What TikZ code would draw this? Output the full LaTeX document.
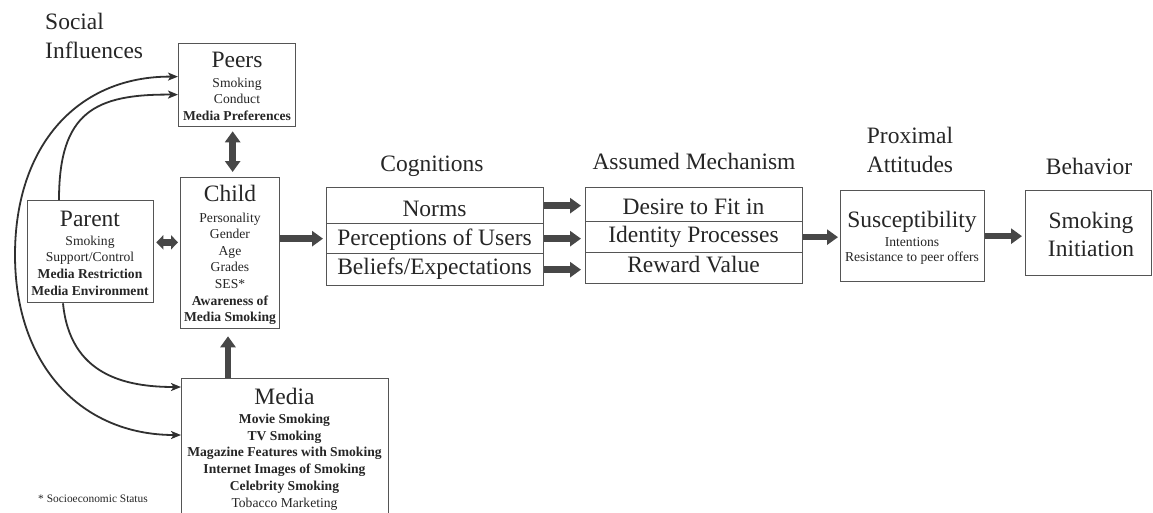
\documentclass[tikz,border=0pt]{standalone}
\usepackage{fontspec}
\setmainfont{Liberation Serif}
\usetikzlibrary{arrows.meta,calc}
\definecolor{txt}{HTML}{262626}
\definecolor{boxc}{HTML}{555555}
\definecolor{arrowc}{HTML}{474747}
\definecolor{arcc}{HTML}{303030}
\begin{document}
\begin{tikzpicture}[x=1pt,y=-1pt,
  bx/.style={draw=boxc,line width=1.3pt,inner sep=0pt,anchor=north west,rectangle},
  tl/.style={anchor=base,inner sep=0pt,text=txt},
  big/.style={tl,font=\fontsize{23.5}{28}\selectfont},
  sm/.style={tl,font=\fontsize{13.6}{16}\selectfont},
  smb/.style={tl,font=\fontsize{13.6}{16}\selectfont\bfseries},
  fat/.style={draw=arrowc,line width=6.5pt,-{Triangle[length=11pt,width=15pt]}},
  fatd/.style={draw=arrowc,line width=6.5pt,{Triangle[length=11pt,width=15pt]}-{Triangle[length=11pt,width=15pt]}},
  fatds/.style={draw=arrowc,line width=6.5pt,{Triangle[length=7pt,width=14pt]}-{Triangle[length=7pt,width=14pt]}},
  sarc/.style={draw=arcc,line width=1.8pt},
  arctip/.style={-{Stealth[length=10pt,width=8pt,inset=2.5pt]}}
]
\path[use as bounding box] (0,0) rectangle (1153,512);
\fill[white] (0,0) rectangle (1153,512);
\clip (0,0) rectangle (1153,512);

% boxes
\node[bx,minimum width=117pt,minimum height=83pt] (peers) at (178,43) {};
\node[bx,minimum width=99pt,minimum height=151pt] (child) at (180,177) {};
\node[bx,minimum width=126pt,minimum height=102pt] (parent) at (27,200) {};
\node[bx,minimum width=207pt,minimum height=152pt] (media) at (181,378) {};
\node[bx,minimum width=217pt,minimum height=36pt] (cog1) at (326,187) {};
\node[bx,minimum width=217pt,minimum height=30pt] (cog2) at (326,223) {};
\node[bx,minimum width=217pt,minimum height=32pt] (cog3) at (326,253) {};
\node[bx,minimum width=217pt,minimum height=34pt] (mech1) at (585,187) {};
\node[bx,minimum width=217pt,minimum height=31pt] (mech2) at (585,221) {};
\node[bx,minimum width=217pt,minimum height=31pt] (mech3) at (585,252) {};
\node[bx,minimum width=144pt,minimum height=91pt] (prox) at (840,190) {};
\node[bx,minimum width=126pt,minimum height=85pt] (behav) at (1025,190) {};

% headings
\node[big,anchor=base west] (hSocial) at (45,29.5) {Social};
\node[big,anchor=base west] (hInfl) at (45,58) {Influences};
\node[big] (hCog) at (432,171.7) {Cognitions};
\node[big] (hMech) at (694,169.3) {Assumed Mechanism};
\node[big] (hProx1) at (910,143.3) {Proximal};
\node[big] (hProx2) at (910,172.7) {Attitudes};
\node[big] (hBeh) at (1089,174) {Behavior};

% peers text
\node[big] (tPeers) at (237,67) {Peers};
\node[sm] (tPeers1) at (237,87) {Smoking};
\node[sm] (tPeers2) at (237,103.5) {Conduct};
\node[smb] (tPeers3) at (237,120.5) {Media Preferences};

% child text
\node[big] (tChild) at (230,201.5) {Child};
\node[sm] (tChild1) at (230,222) {Personality};
\node[sm] (tChild2) at (230,238.6) {Gender};
\node[sm] (tChild3) at (230,255.2) {Age};
\node[sm] (tChild4) at (230,271.8) {Grades};
\node[sm] (tChild5) at (230,288.4) {SES*};
\node[smb] (tChild6) at (230,305) {Awareness of};
\node[smb] (tChild7) at (230,321.6) {Media Smoking};

% parent text
\node[big] (tParent) at (90,226.7) {Parent};
\node[sm] (tParent1) at (90,245) {Smoking};
\node[sm] (tParent2) at (90,261.7) {Support/Control};
\node[smb] (tParent3) at (90,278.3) {Media Restriction};
\node[smb] (tParent4) at (90,295) {Media Environment};

% media text
\node[big] (tMedia) at (284.5,404) {Media};
\node[smb] (tMedia1) at (284.5,423.3) {Movie Smoking};
\node[smb] (tMedia2) at (284.5,440) {TV Smoking};
\node[smb] (tMedia3) at (284.5,456.8) {Magazine Features with Smoking};
\node[smb] (tMedia4) at (284.5,473.6) {Internet Images of Smoking};
\node[smb] (tMedia5) at (284.5,490.4) {Celebrity Smoking};
\node[sm] (tMedia6) at (284.5,507.2) {Tobacco Marketing};

\node[tl,font=\fontsize{11.4}{13}\selectfont] (tFoot) at (93,502) {* Socioeconomic Status};

% cognitions / mechanism text
\node[big] (tCog1) at (434.5,216.7) {Norms};
\node[big] (tCog2) at (434.5,245) {Perceptions of Users};
\node[big] (tCog3) at (434.5,274) {Beliefs/Expectations};
\node[big] (tMech1) at (693.5,214) {Desire to Fit in};
\node[big] (tMech2) at (693.5,242.5) {Identity Processes};
\node[big] (tMech3) at (693.5,272) {Reward Value};

% proximal / behavior text
\node[big] (tProx) at (912,227.3) {Susceptibility};
\node[sm] (tProx1) at (912,246.7) {Intentions};
\node[sm] (tProx2) at (912,261.7) {Resistance to peer offers};
\node[big] (tBeh1) at (1091,228.3) {Smoking};
\node[big] (tBeh2) at (1091,256.7) {Initiation};

% curved social-influence arrows
\coordinate (outerleft) at (15,255);
\draw[sarc,{Stealth[length=10pt,width=8pt,inset=2.5pt]}-] ($(peers.west)+(0,-8.5)$) .. controls (78,76) and (15,145) .. (outerleft);
\draw[sarc,arctip] (outerleft) .. controls (15,365) and (81,435) .. ($(media.north west)+(0,57)$);
\draw[sarc,arctip] ($(parent.north west)+(32,0)$) .. controls (59,112) and (95,94) .. ($(peers.west)+(0,9.5)$);
\draw[sarc,arctip] ($(parent.south west)+(36,0)$) .. controls (70,375) and (125,387) .. ($(media.north west)+(0,9)$);

% thick arrows
\draw[fatd] ($(child.north)+(2.5,-5)$) -- ($(child.north |- peers.south)+(2.5,4)$);
\draw[fatds] ($(parent.east)+(2,-9.3)$) -- ($(child.west |- parent.east)+(-2,-9.3)$);
\draw[fat] ($(media.north west)+(47,0)$) -- ($(child.south west)+(48,7)$);
\draw[fat,shorten >=3pt] (child.east |- cog2.west) -- (cog2.west);
\draw[fat,shorten >=4pt] (cog1.east) -- (cog1.east -| mech1.west);
\draw[fat,shorten >=4pt] (cog2.east) -- (cog2.east -| mech2.west);
\draw[fat,shorten >=4pt] (cog3.east) -- (cog3.east -| mech3.west);
\draw[fat,shorten >=2pt] (mech2.east) -- (mech2.east -| prox.west);
\draw[fat,shorten >=3pt] (prox.east) -- (prox.east -| behav.west);
\end{tikzpicture}
\end{document}
